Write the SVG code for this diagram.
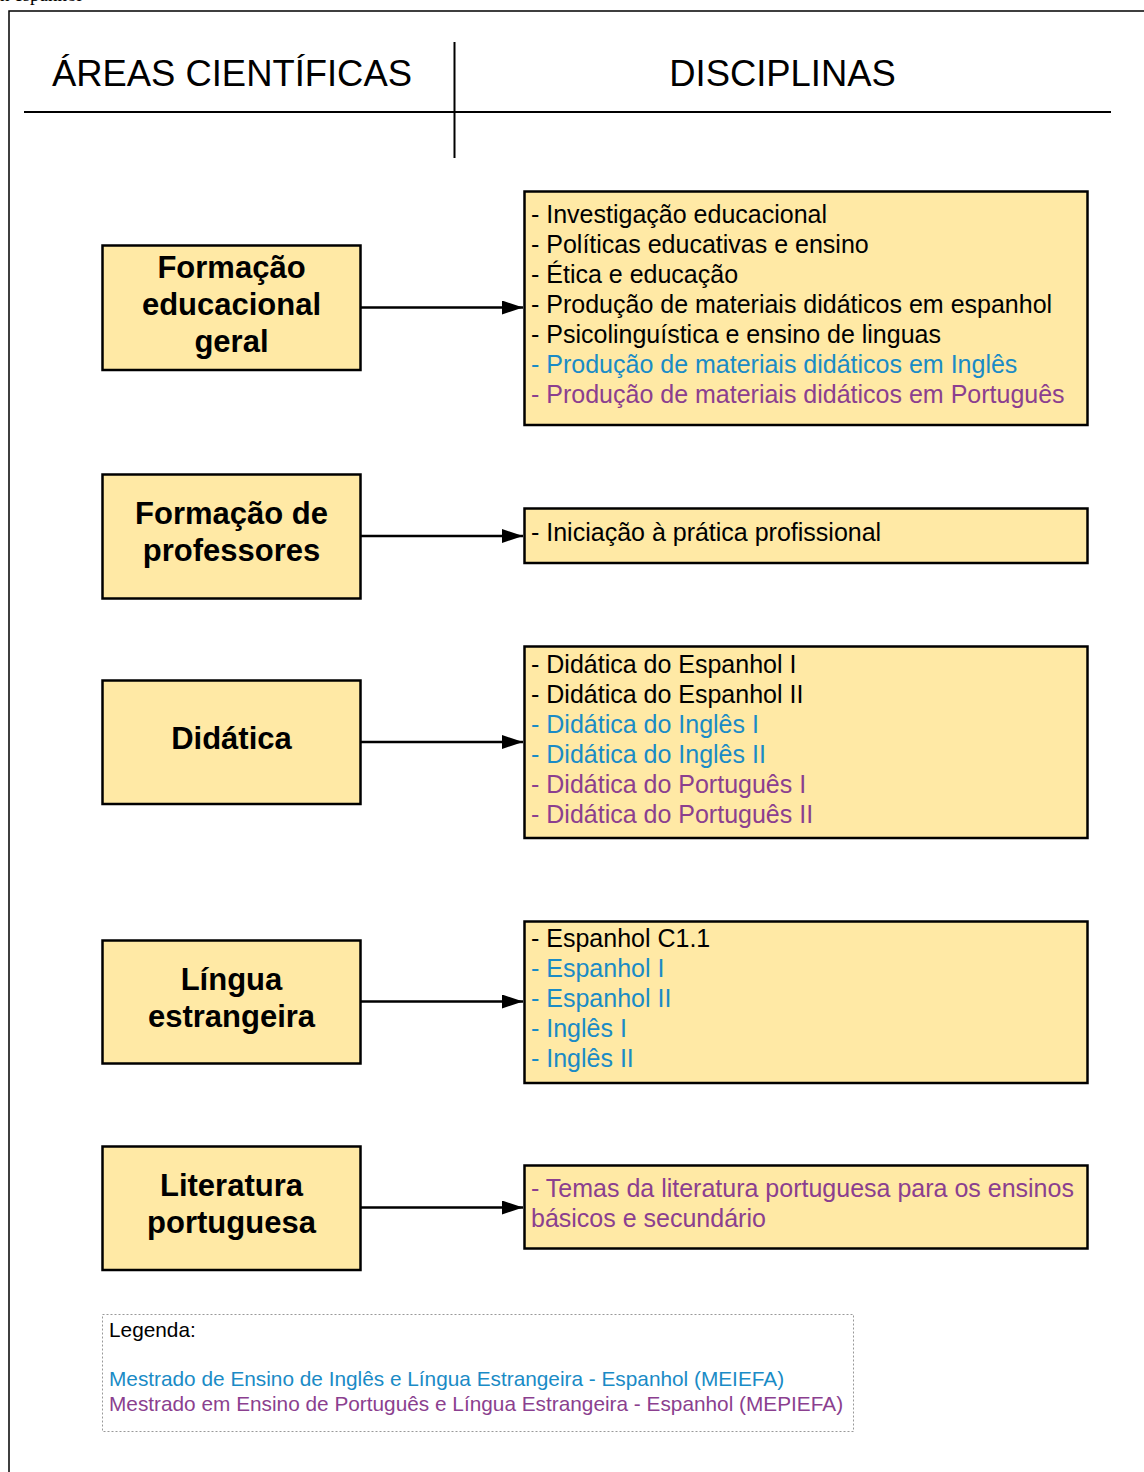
<svg xmlns="http://www.w3.org/2000/svg" width="1144" height="1472" viewBox="0 0 1144 1472">
<style>
.frame{fill:none;stroke:#000;stroke-width:1.5}
.hdr{font-family:"Liberation Sans",Arial,sans-serif;font-size:36.4px;fill:#000}
.box{fill:#FFE9A5;stroke:#000;stroke-width:2.5}
.lbl{font-family:"Liberation Sans",Arial,sans-serif;font-size:31px;font-weight:bold;fill:#000;text-anchor:middle}
.item{font-family:"Liberation Sans",Arial,sans-serif;font-size:25px;fill:#000}
.leg{font-family:"Liberation Sans",Arial,sans-serif;font-size:20.8px;fill:#000}
.conn{stroke:#000;stroke-width:2.5;fill:none;marker-end:url(#arr)}
text.b{fill:#1A8BC6}
text.p{fill:#8B3F8F}
</style>
<defs>
<marker id="arr" markerUnits="userSpaceOnUse" markerWidth="22" markerHeight="16" refX="21" refY="7" orient="auto">
<path d="M0,0 L21,7 L0,14 z" fill="#000"/>
</marker>
</defs>
<rect width="1144" height="1472" fill="#fff"/>
<text x="0" y="1" font-family="Liberation Serif,serif" font-size="19" fill="#000">n espanhol</text>
<path class="frame" d="M9,1472 V11 H1144"/>
<g id="header">
<line x1="24" y1="112" x2="1111" y2="112" stroke="#000" stroke-width="2"/>
<line x1="454.5" y1="42" x2="454.5" y2="158" stroke="#000" stroke-width="2"/>
<text class="hdr" x="52" y="86">ÁREAS CIENTÍFICAS</text>
<text class="hdr" x="782.5" y="86" text-anchor="middle">DISCIPLINAS</text>
</g>
<g id="area1">
<rect class="box" x="102.5" y="245.5" width="258" height="124.5"/>
<text class="lbl" x="231.5" y="278">Formação</text>
<text class="lbl" x="231.5" y="315">educacional</text>
<text class="lbl" x="231.5" y="352">geral</text>
</g>
<g id="area2">
<rect class="box" x="102.5" y="474.5" width="258" height="124"/>
<text class="lbl" x="231.5" y="524">Formação de</text>
<text class="lbl" x="231.5" y="561">professores</text>
</g>
<g id="area3">
<rect class="box" x="102.5" y="680.5" width="258" height="123.5"/>
<text class="lbl" x="231.5" y="749">Didática</text>
</g>
<g id="area4">
<rect class="box" x="102.5" y="940.5" width="258" height="123"/>
<text class="lbl" x="231.5" y="990">Língua</text>
<text class="lbl" x="231.5" y="1027">estrangeira</text>
</g>
<g id="area5">
<rect class="box" x="102.5" y="1146.5" width="258" height="123.5"/>
<text class="lbl" x="231.5" y="1196">Literatura</text>
<text class="lbl" x="231.5" y="1233">portuguesa</text>
</g>
<g id="disc1">
<rect class="box" x="524.5" y="191.5" width="563" height="233.5"/>
<text class="item" x="531" y="223">- Investigação educacional</text>
<text class="item" x="531" y="253">- Políticas educativas e ensino</text>
<text class="item" x="531" y="283">- Ética e educação</text>
<text class="item" x="531" y="313">- Produção de materiais didáticos em espanhol</text>
<text class="item" x="531" y="343">- Psicolinguística e ensino de linguas</text>
<text class="item b" x="531" y="373">- Produção de materiais didáticos em Inglês</text>
<text class="item p" x="531" y="403">- Produção de materiais didáticos em Português</text>
</g>
<g id="disc2">
<rect class="box" x="524.5" y="508.5" width="563" height="54.5"/>
<text class="item" x="531" y="541">- Iniciação à prática profissional</text>
</g>
<g id="disc3">
<rect class="box" x="524.5" y="646.5" width="563" height="191.5"/>
<text class="item" x="531" y="673">- Didática do Espanhol I</text>
<text class="item" x="531" y="703">- Didática do Espanhol II</text>
<text class="item b" x="531" y="733">- Didática do Inglês I</text>
<text class="item b" x="531" y="763">- Didática do Inglês II</text>
<text class="item p" x="531" y="793">- Didática do Português I</text>
<text class="item p" x="531" y="823">- Didática do Português II</text>
</g>
<g id="disc4">
<rect class="box" x="524.5" y="921.5" width="563" height="161.5"/>
<text class="item" x="531" y="947">- Espanhol C1.1</text>
<text class="item b" x="531" y="977">- Espanhol I</text>
<text class="item b" x="531" y="1007">- Espanhol II</text>
<text class="item b" x="531" y="1037">- Inglês I</text>
<text class="item b" x="531" y="1067">- Inglês II</text>
</g>
<g id="disc5">
<rect class="box" x="524.5" y="1165.5" width="563" height="83"/>
<text class="item p" x="531" y="1197">- Temas da literatura portuguesa para os ensinos</text>
<text class="item p" x="531" y="1227">básicos e secundário</text>
</g>
<g id="connectors">
<line class="conn" x1="361" y1="307.5" x2="523" y2="307.5"/>
<line class="conn" x1="361" y1="536" x2="523" y2="536"/>
<line class="conn" x1="361" y1="742" x2="523" y2="742"/>
<line class="conn" x1="361" y1="1001.5" x2="523" y2="1001.5"/>
<line class="conn" x1="361" y1="1207.5" x2="523" y2="1207.5"/>
</g>
<g id="legend">
<rect x="102.5" y="1314.5" width="751" height="117" fill="none" stroke="#999" stroke-width="1" stroke-dasharray="2,2"/>
<text class="leg" x="109" y="1337">Legenda:</text>
<text class="leg b" x="109" y="1386">Mestrado de Ensino de Inglês e Língua Estrangeira - Espanhol (MEIEFA)</text>
<text class="leg p" x="109" y="1411">Mestrado em Ensino de Português e Língua Estrangeira - Espanhol (MEPIEFA)</text>
</g>
</svg>
